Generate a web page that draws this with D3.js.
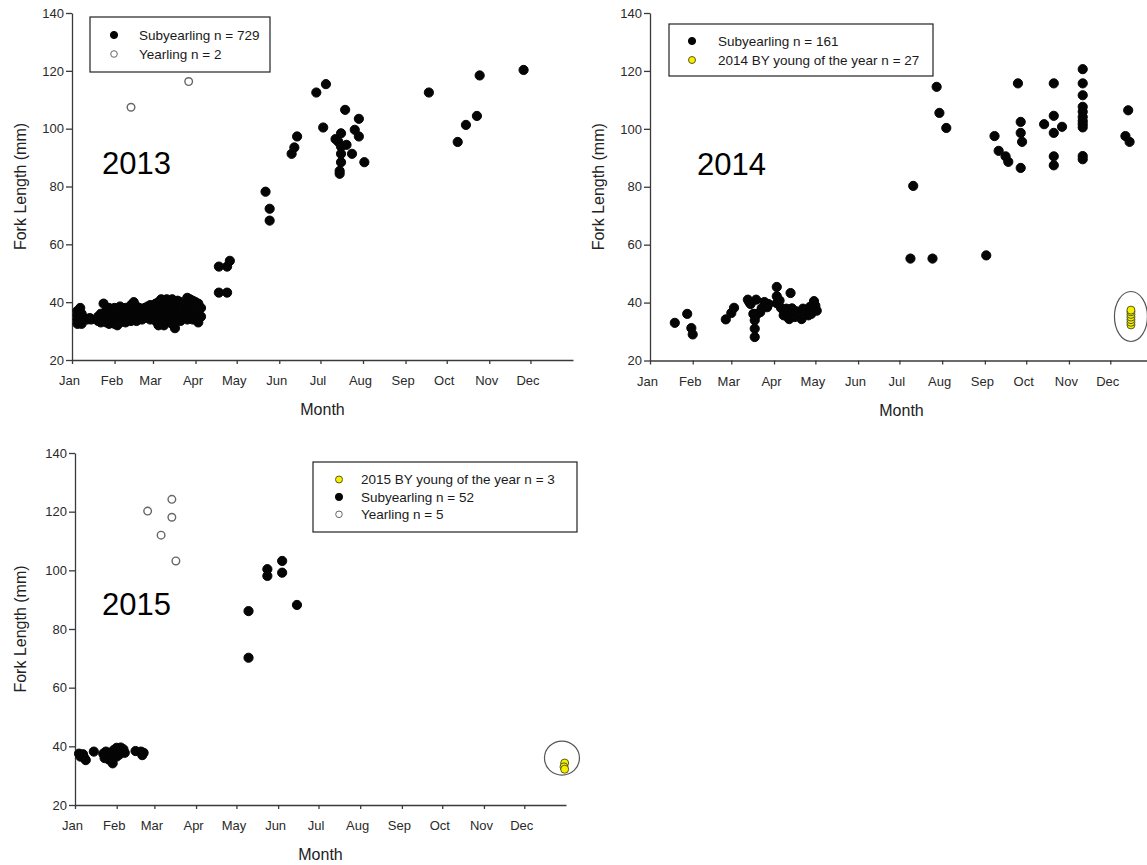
<!DOCTYPE html>
<html lang="en">
<head>
    <meta charset="utf-8">
    <title>Fork length by month</title>
    <script src="https://d3js.org/d3.v7.min.js"></script>
    <style>
        body { margin: 0; background: #fff; }
        svg { display: block; font-family: "Liberation Sans", Arial, sans-serif; }
    </style>
</head>
<body>
<div id="chart-container"></div>
<script>
    // Month ticks (day of year at the start of each month)
    const MONTHS = ["Jan", "Feb", "Mar", "Apr", "May", "Jun", "Jul", "Aug", "Sep", "Oct", "Nov", "Dec"];
    const MONTH_START = [0, 31, 59, 90, 120, 151, 181, 212, 243, 273, 304, 334];
    const Y_TICKS = [20, 40, 60, 80, 100, 120, 140];

    // 2013 : [day of year, fork length mm]
    const sub2013 = [
        [4,37],[4,35.5],[4,34],[4,32.5],[5,36.5],[5,33],[6,38],[6,35],[6,33.5],[7,36],[7,34.5],[7,32.5],
        [9,34.5],[11,34],[13,34.5],[14,34],
        [19,33.5],[19,35],[21,33],[21,34.5],[21,36],[23,34],[23,36],[23,39.5],[25,33],[25,35],[25,37],
        [27,32.5],[27,34],[27,36],[27,38],[29,33],[29,35],[29,37.5],[31,32.5],[31,34.5],[31,36.5],[31,38],
        [33,32],[33,34],[33,36],[35,33],[35,35],[35,37],[35,38.5],[37,33.5],[37,35.5],[37,37.5],
        [39,33],[39,35],[39,36.5],[39,38],[41,34],[41,36],[41,37.5],[43,33.5],[43,35.5],[43,37],[43,39],
        [45,34],[45,36],[45,38],[45,40],[47,33.5],[47,35],[47,37],[47,38.5],[49,34.5],[49,36.5],[49,38],
        [51,34],[51,36],[51,37.5],[53,34.5],[53,36],[53,38],[55,35],[55,36.5],[55,38.5],
        [57,34],[57,36],[57,37.5],[57,39],[59,34.5],[59,36.5],[59,38.5],[61,33.5],[61,35.5],[61,37.5],[61,39.5],
        [63,32],[63,34],[63,36],[63,38],[63,40],[65,33],[65,35],[65,37],[65,39],[65,41],
        [67,32],[67,34],[67,36.5],[67,38.5],[67,40.5],[69,33.5],[69,35.5],[69,37.5],[69,39.5],[69,41],
        [71,34],[71,36],[71,38],[71,40],[73,32.5],[73,34.5],[73,37],[73,39],[73,41],
        [75,31],[75,33],[75,35.5],[75,38],[75,40],[77,34],[77,36],[77,38],[77,40.5],
        [79,33.5],[79,36],[79,38.5],[79,40],[81,35],[81,37],[81,39],
        [84,34],[84,36],[84,38],[84,40],[84,41.5],[86,35],[86,37],[86,39],[86,41],
        [88,34],[88,36.5],[88,38.5],[88,40.5],[90,36],[90,38],[90,40],[92,33],[92,35],[92,37.5],[92,39.5],
        [94,35],[94,38],
        [107,52.3],[113,52.3],[115,54.3],[107,43.3],[113,43.3],
        [141,78.2],[144,72.3],[144,68.2],
        [160,91.3],[162,93.5],[164,97.3],
        [178,112.5],[185,115.4],[183,100.4],
        [192,96.4],[194,95.5],[196,98.4],[196,93.8],[199,106.5],[196,91.3],[196,88.4],[195,85.4],[195,84.4],
        [200,94.4],[204,91.3],[206,99.6],[209,103.4],[209,97.3],[213,88.4],
        [260,112.5],[281,95.4],[287,101.3],[295,104.4],[297,118.4],[329,120.3]
    ];
    const yrl2013 = [[43,107.4],[85,116.3]];

    // 2014
    const sub2014 = [
        [18,33],[27,36.1],[30,31.2],[31,29],
        [55,34.2],[59,36.4],[61,38.2],
        [71,41],[72,40.2],[73,39.5],[75,36.1],[76,36.1],[76,33.9],[76,31],[76,28.1],[77,35.6],[77,41],
        [80,36.7],[81,38],[83,40.2],[86,39.5],[85,38.4],
        [92,45.4],[92,42.2],[92,39.8],[94,40.7],[95,38.2],[97,37.3],[97,35.6],[99,37.9],[100,35],[102,43.3],
        [101,34.3],[103,36.1],[103,38],[105,35],[106,37],
        [110,34.3],[111,37.9],[112,36],[115,35.6],[116,38.5],[117,36.1],[118,37.8],[119,40.5],[120,37.9],[120,38.9],[121,37.2],
        [189,55.2],[205,55.2],[244,56.3],
        [191,80.3],[208,114.5],[210,105.5],[215,100.3],
        [250,97.5],[253,92.4],[258,90.5],[260,88.6],[267,115.7],[269,102.4],[269,98.6],[270,95.5],[269,86.5],
        [286,101.6],[293,115.7],[293,104.5],[293,98.6],[293,90.5],[293,87.4],[299,100.7],
        [314,120.6],[314,115.7],[314,111.6],[314,107.6],[314,105.9],[314,104.1],[314,102.7],[314,101.6],
        [314,100.5],[314,90.6],[314,89.5],
        [347,106.4],[345,97.5],[348,95.5]
    ];
    const yoy2014 = [[349,32.3],[349,33.2],[349,34.1],[349,35],[349,35.9],[349,36.8],[349,37.4]];

    // 2015
    const sub2015 = [
        [3,37.5],[4,36.5],[6,37.3],[7,36],[8,35.3],[14,38.2],
        [21,37.5],[22,36],[23,38.2],[24,36.5],[25,35.5],[26,37.8],[27,36.3],[28,34.2],[28,35.8],[29,38.8],
        [30,37],[31,39.5],[31,36.5],[32,38.3],[33,37.2],[34,39.6],[35,38.5],[36,39],[37,37.8],
        [45,38.4],[49,38.2],[50,37],[51,37.8],
        [129,86.1],[129,70.2],[143,100.4],[143,98.1],[154,103.2],[154,99.2],[165,88.2]
    ];
    const yrl2015 = [[54,120.2],[64,112],[72,124.2],[72,118.1],[75,103.2]];
    const yoy2015 = [[364,34.3],[363.5,33],[364,32.2]];

    // circled young-of-the-year groups [day, mm]
    const ring2014 = [349, 35.2];
    const ring2015 = [362, 36];

    const legend2013 = ["Subyearling n = 729", "Yearling n = 2"];
    const legend2014 = ["Subyearling n = 161", "2014 BY young of the year n = 27"];
    const legend2015 = ["2015 BY young of the year n = 3", "Subyearling n = 52", "Yearling n = 5"];

    // marker styles
    const STYLE = {
        sub: { r: 4.6, fill: "#050505", stroke: "#050505", sw: 1, lr: 3.6 },
        yrl: { r: 3.8, fill: "#fff", stroke: "#666", sw: 1.4, lr: 3.3 },
        yoy: { r: 4, fill: "#f4f000", stroke: "#5a5a20", sw: 1, lr: 3.5 }
    };

    const width = 1147, height = 865;
    const svg = d3.select("#chart-container").append("svg")
        .attr("width", width)
        .attr("height", height);

    function drawPanel(p) {
        const g = svg.append("g");
        const x = d3.scaleLinear().domain([0, 365]).range(p.xr);
        const y = d3.scaleLinear().domain([20, 140]).range(p.yr);

        // axes
        const xAxis = g.append("g")
            .attr("transform", `translate(0,${p.yr[0]})`)
            .call(d3.axisBottom(x).tickValues(MONTH_START).tickFormat((d, i) => MONTHS[i])
                .tickSizeInner(4).tickSizeOuter(0));
        xAxis.selectAll("text").attr("y", 25).attr("dy", 0).attr("dx", -3)
            .style("font-size", "13px").style("fill", "#2a2a2a");

        const yAxis = g.append("g")
            .attr("transform", `translate(${p.xr[0]},0)`)
            .call(d3.axisLeft(y).tickValues(Y_TICKS).tickSizeInner(6).tickSizeOuter(0));
        yAxis.selectAll("text").attr("x", -8)
            .style("font-size", "13px").style("fill", "#2a2a2a");

        g.selectAll(".domain, .tick line").attr("stroke", "#3a3a3a").attr("stroke-width", 1.3);

        // axis titles
        g.append("text")
            .attr("x", (p.xr[0] + p.xr[1]) / 2)
            .attr("y", p.yr[0] + 55)
            .attr("text-anchor", "middle")
            .style("font-size", "16px").style("fill", "#222")
            .text("Month");

        g.append("text")
            .attr("transform", `translate(${p.titleX},${(p.yr[0] + p.yr[1]) / 2}) rotate(-90)`)
            .attr("text-anchor", "middle")
            .attr("dy", "0.35em")
            .style("font-size", "16px").style("fill", "#222")
            .text("Fork Length (mm)");

        // year label
        g.append("text")
            .attr("x", p.yearPos[0]).attr("y", p.yearPos[1])
            .style("font-size", "31px").style("fill", "#000")
            .text(p.year);

        // ring around young of the year
        if (p.ring) {
            g.append("ellipse")
                .attr("cx", x(p.ring[0])).attr("cy", y(p.ring[1]))
                .attr("rx", p.ringR[0]).attr("ry", p.ringR[1])
                .attr("fill", "none").attr("stroke", "#555").attr("stroke-width", 1.2);
        }

        // points
        p.series.forEach(s => {
            const st = STYLE[s.kind];
            g.append("g").selectAll("circle")
                .data(s.data)
                .join("circle")
                .attr("cx", d => x(d[0]))
                .attr("cy", d => y(d[1]))
                .attr("r", st.r)
                .attr("fill", st.fill)
                .attr("stroke", st.stroke)
                .attr("stroke-width", st.sw);
        });

        // legend
        const lg = g.append("g").attr("transform", `translate(${p.legend.x},${p.legend.y})`);
        lg.append("rect")
            .attr("width", p.legend.w).attr("height", p.legend.h)
            .attr("fill", "#fff").attr("stroke", "#222").attr("stroke-width", 1.2);
        p.legend.items.forEach((it, i) => {
            const st = STYLE[it.kind];
            const cy = p.legend.row0 + i * p.legend.step;
            lg.append("circle")
                .attr("cx", p.legend.mx).attr("cy", cy).attr("r", st.lr)
                .attr("fill", st.fill).attr("stroke", st.stroke).attr("stroke-width", 1);
            lg.append("text")
                .attr("x", p.legend.tx).attr("y", cy).attr("dy", "0.35em")
                .style("font-size", "13.5px").style("fill", "#1a1a1a")
                .text(it.label);
        });
    }

    drawPanel({
        xr: [72, 573], yr: [360, 13], titleX: 20, year: "2013", yearPos: [102, 174],
        series: [
            { kind: "sub", data: sub2013 },
            { kind: "yrl", data: yrl2013 }
        ],
        legend: { x: 90, y: 17, w: 180, h: 55, mx: 24, tx: 49, row0: 18, step: 19,
            items: [{ kind: "sub", label: legend2013[0] }, { kind: "yrl", label: legend2013[1] }] }
    });

    drawPanel({
        xr: [650, 1153], yr: [360.5, 13], titleX: 598, year: "2014", yearPos: [697, 175],
        ring: ring2014, ringR: [16.5, 25],
        series: [
            { kind: "sub", data: sub2014 },
            { kind: "yoy", data: yoy2014 }
        ],
        legend: { x: 669, y: 24, w: 264, h: 52, mx: 23, tx: 49, row0: 17, step: 19,
            items: [{ kind: "sub", label: legend2014[0] }, { kind: "yoy", label: legend2014[1] }] }
    });

    drawPanel({
        xr: [75, 566], yr: [805, 453], titleX: 20, year: "2015", yearPos: [102, 615],
        ring: ring2015, ringR: [17.5, 17],
        series: [
            { kind: "sub", data: sub2015 },
            { kind: "yrl", data: yrl2015 },
            { kind: "yoy", data: yoy2015 }
        ],
        legend: { x: 313, y: 462, w: 264, h: 70, mx: 26, tx: 48, row0: 17.5, step: 17.4,
            items: [{ kind: "yoy", label: legend2015[0] }, { kind: "sub", label: legend2015[1] },
                    { kind: "yrl", label: legend2015[2] }] }
    });
</script>
</body>
</html>
